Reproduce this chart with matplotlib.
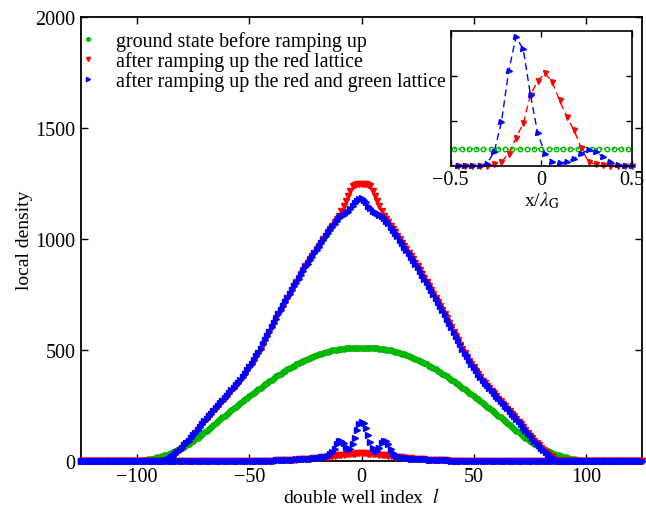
import numpy as np
import matplotlib
matplotlib.use("Agg")
import matplotlib.pyplot as plt

plt.rcParams["font.family"] = ["Liberation Serif", "DejaVu Serif"]
plt.rcParams["mathtext.fontset"] = "stix"

# double well index
l_idx = np.arange(-125, 126)

# ground state before ramping up
ground = ([0] * 27
          + [2, 3, 5, 7, 9, 11, 13, 16, 19, 22,
             26, 29, 33, 37, 41, 45, 50, 55, 60, 65,
             71, 77, 84, 91, 98, 105, 113, 121, 129, 137,
             145, 153, 162, 170, 179, 187, 196, 204, 212, 220,
             229, 237, 245, 253, 261, 269, 277, 285, 293, 300,
             308, 315, 323, 330, 338, 345, 353, 360, 367, 374,
             381, 387, 394, 400, 407, 413, 419, 424, 430, 435,
             441, 446, 451, 455, 460, 464, 469, 473, 477, 480,
             484, 487, 490, 493, 496, 498, 500, 501, 503, 504,
             506, 507, 508, 508, 509, 509, 509, 509]
          + [509]
          + [509, 509, 509, 509, 508, 508, 507, 506,
             504, 503, 501, 500, 498, 496, 493, 490, 487, 484,
             480, 477, 473, 469, 464, 460, 455, 451, 446, 441,
             435, 430, 424, 419, 413, 407, 400, 394, 387, 381,
             374, 367, 360, 353, 345, 338, 330, 323, 315, 308,
             300, 293, 285, 277, 269, 261, 253, 245, 237, 229,
             220, 212, 204, 196, 187, 179, 170, 162, 153, 145,
             137, 129, 121, 113, 105, 98, 91, 84, 77, 71,
             65, 60, 55, 50, 45, 41, 37, 33, 29, 26,
             22, 19, 16, 13, 11, 9, 7, 5, 3, 2]
          + [0] * 27)

# after ramping up the red lattice: upper and lower well
red_up = ([0] * 37
          + [2, 5, 10, 17, 24, 33, 42, 51, 60, 70,
             79, 90, 102, 114, 127, 140, 152, 165, 177, 189,
             201, 212, 224, 236, 247, 257, 268, 280, 292, 304,
             316, 328, 339, 350, 362, 377, 392, 407, 422, 437,
             452, 469, 486, 505, 524, 543, 562, 582, 602, 623,
             643, 662, 680, 698, 716, 734, 752, 770, 788, 806,
             824, 842, 860, 877, 893, 909, 924, 939, 954, 969,
             984, 1000, 1015, 1030, 1045, 1060, 1075, 1090, 1105, 1127,
             1150, 1172, 1195, 1218, 1238, 1244, 1247, 1248]
          + [1248]
          + [1248, 1247, 1244, 1238, 1218, 1195, 1172, 1150,
             1127, 1105, 1090, 1075, 1060, 1045, 1030, 1015, 1000, 984,
             969, 954, 939, 924, 909, 893, 877, 860, 842, 824,
             806, 788, 770, 752, 734, 716, 698, 680, 662, 643,
             623, 602, 582, 562, 543, 524, 505, 486, 469, 452,
             437, 422, 407, 392, 377, 362, 350, 339, 328, 316,
             304, 292, 280, 268, 257, 247, 236, 224, 212, 201,
             189, 177, 165, 152, 140, 127, 114, 102, 90, 79,
             70, 60, 51, 42, 33, 24, 17, 10, 5, 2]
          + [0] * 37)
red_low = ([0] * 81
           + [1, 1, 2, 2, 2, 2, 3, 3, 3, 3,
              4, 4, 5, 5, 6, 6, 7, 7, 8, 9,
              10, 11, 12, 13, 14, 15, 16, 17, 18, 20,
              21, 22, 24, 26, 27, 28, 29, 30, 31, 32,
              33, 33, 34, 34]
           + [35]
           + [34, 34, 33, 33,
              32, 31, 30, 29, 28, 27, 26, 24, 22, 21,
              20, 18, 17, 16, 15, 14, 13, 12, 11, 10,
              9, 8, 7, 7, 6, 6, 5, 5, 4, 4,
              3, 3, 3, 3, 2, 2, 2, 2, 1, 1]
           + [0] * 81)

# after ramping up the red and green lattice: upper and lower well
blue_up = ([0] * 37
           + [2, 5, 9, 16, 23, 32, 41, 50, 60, 70,
              80, 91, 103, 115, 128, 141, 153, 166, 178, 190,
              202, 213, 225, 237, 248, 259, 270, 282, 294, 306,
              318, 330, 341, 352, 364, 379, 394, 409, 424, 439,
              454, 471, 488, 506, 525, 544, 563, 582, 602, 621,
              641, 660, 678, 696, 714, 732, 750, 768, 786, 803,
              821, 838, 856, 872, 889, 904, 920, 935, 950, 965,
              980, 996, 1012, 1026, 1040, 1054, 1068, 1082, 1095, 1103,
              1110, 1115, 1122, 1134, 1150, 1162, 1172, 1180]
           + [1183]
           + [1176, 1165, 1150, 1138, 1128, 1120, 1115, 1110,
              1103, 1096, 1083, 1070, 1056, 1042, 1027, 1012, 997, 982,
              966, 951, 936, 921, 905, 889, 873, 856, 839, 821,
              804, 786, 768, 750, 732, 714, 696, 678, 660, 641,
              621, 602, 582, 563, 544, 525, 506, 488, 471, 454,
              439, 424, 409, 394, 379, 364, 352, 341, 330, 318,
              306, 294, 282, 270, 259, 248, 237, 225, 213, 202,
              190, 178, 166, 153, 141, 128, 115, 103, 91, 80,
              70, 60, 50, 41, 32, 23, 16, 9, 5, 2]
           + [0] * 37)
blue_low = ([0] * 85
            + [2, 2, 3, 3, 3, 4, 4, 5, 5, 6,
               6, 7, 7, 8, 8, 9, 9, 10, 11, 12,
               13, 14, 16, 18, 20, 24, 30, 40, 52, 75,
               90, 92, 80, 62, 52, 55, 75, 105, 140, 165,
               174,
               170, 150, 118, 85, 60, 50, 46, 58, 80, 92,
               90, 75, 55, 38, 28, 22, 18, 16, 14, 13,
               12, 11, 10, 9, 9, 8, 8, 7, 7, 6,
               6, 5, 5, 5, 4, 4, 3, 3, 3, 2]
            + [0] * 85)

# single well profile, x in units of lambda_G
x_in = np.linspace(-0.46, 0.50, 25)
x_in_ground = np.linspace(-0.48, 0.48, 25)
ground_in = [0.39] * 25
red_in = [0, 0, 0, 0, 0.01, 0.04, 0.10, 0.28, 0.63, 0.95, 1.58, 1.90, 2.06,
          1.87, 1.46, 1.10, 0.80, 0.40, 0.10, 0.04, 0.02, 0, 0, 0, 0]
blue_in = [0, 0, 0, 0, 0.06, 0.32, 0.99, 2.12, 2.87, 2.59, 1.58, 0.73, 0.28,
           0.10, 0.07, 0.10, 0.17, 0.28, 0.37, 0.32, 0.21, 0.10, 0.02, 0, 0]

labels = ["ground state before ramping up",
          "after ramping up the red lattice",
          "after ramping up the red and green lattice"]

GREEN = (0.0, 0.72, 0.0)

fig = plt.figure(figsize=(6.46, 5.06), dpi=100)
ax = fig.add_axes([0.1254, 0.0870, 0.8684, 0.8775])

kw = dict(linestyle="none", clip_on=False, zorder=3)
g, = ax.plot(l_idx, ground, marker="o", ms=3.8, color=GREEN, mec=GREEN, **kw)
r, = ax.plot(l_idx, red_up, marker="v", ms=4.2, color="red", **kw)
ax.plot(l_idx, red_low, marker="v", ms=4.2, color="red", **kw)
b, = ax.plot(l_idx, blue_up, marker=">", ms=4.2, color="blue", **kw)
ax.plot(l_idx, blue_low, marker=">", ms=4.2, color="blue", **kw)

ax.set_xlim(-125, 125)
ax.set_ylim(0, 2000)
ax.set_xticks([-100, -50, 0, 50, 100])
ax.set_yticks([0, 500, 1000, 1500, 2000])
ax.tick_params(direction="in", top=True, right=True, length=5, width=1,
               labelsize=14.5, pad=4)
for s in ax.spines.values():
    s.set_linewidth(1.3)
ax.set_xlabel("double well index  $l$", fontsize=14, labelpad=1)
ax.set_ylabel("local density", fontsize=14, labelpad=1.5)

ax.legend([g, r, b], labels, loc="upper left", bbox_to_anchor=(0.0, 0.968),
          frameon=False, fontsize=14.4, markerscale=0.7, borderpad=0,
          borderaxespad=0, handlelength=0.7, handletextpad=1.05,
          labelspacing=0.0)

# inset: density profile inside one double well
axi = fig.add_axes([0.6977, 0.6694, 0.2807, 0.2674])
axi.plot(x_in_ground, ground_in, linestyle=":", marker="o", ms=3.2,
         mfc="none", color=GREEN, lw=1.2)
axi.plot(x_in, red_in, linestyle="--", marker="v", ms=3.6, color="red",
         lw=1.0, dashes=(5, 3), clip_on=False)
axi.plot(x_in, blue_in, linestyle="--", marker=">", ms=3.6, color="blue",
         lw=1.0, dashes=(5, 3), clip_on=False)
axi.set_xlim(-0.5, 0.5)
axi.set_ylim(0, 3)
axi.set_xticks([-0.5, 0, 0.5])
axi.set_xticklabels(["\u22120.5", "0", "0.5"])
axi.set_yticks([1, 2])
axi.set_yticklabels([])
axi.tick_params(direction="in", top=True, right=True, length=4, width=1,
                labelsize=14.5, pad=3)
for s in axi.spines.values():
    s.set_linewidth(1.2)
axi.set_xlabel(r"x/$\lambda_{\mathrm{G}}$", fontsize=14, labelpad=0)

fig.savefig("out.png", dpi=100)
